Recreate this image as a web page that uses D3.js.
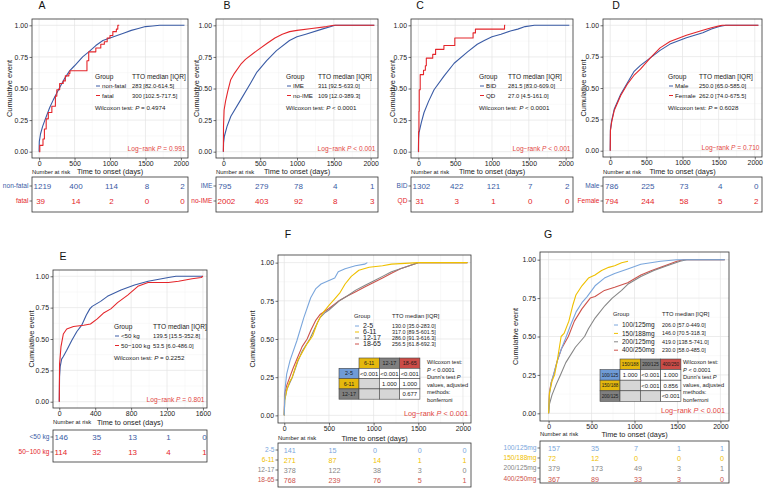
<!DOCTYPE html>
<html>
<head>
<meta charset="utf-8">
<script src="https://cdn.jsdelivr.net/npm/d3@7"></script>
<style>
  body { margin: 0; background: #fff; }
  svg { display: block; font-family: "Liberation Sans", Arial, sans-serif; }
</style>
</head>
<body>
<svg id="fig" width="767" height="488"></svg>
<script>
// ---- data ----
var xTicks2000 = [0, 500, 1000, 1500, 2000];
var xTicks1600 = [0, 400, 800, 1200, 1600];
var yTicks = [0, 0.25, 0.5, 0.75, 1];

// A: fatal vs non-fatal
var aGroups = ["non-fatal", "fatal"];
var aMedians = ["283 [82.0-614.5]", "300 [102.5-717.5]"];
var aRisk = [[1219, 400, 114, 8, 2], [39, 14, 2, 0, 0]];
var aNonFatal = [[0,0],[3,0.08],[20,0.14],[50,0.2],[82,0.25],[150,0.35],[200,0.41],[283,0.5],[350,0.57],[430,0.64],[500,0.68],[614,0.75],[700,0.79],[800,0.84],[900,0.88],[1000,0.9],[1100,0.92],[1200,0.94],[1300,0.96],[1400,0.975],[1500,0.99],[1600,0.995],[1700,1],[2050,1]];
var aFatal = [[0,0],[10,0.05],[55,0.1],[75,0.18],[100,0.26],[130,0.31],[180,0.36],[230,0.44],[250,0.49],[290,0.54],[340,0.56],[370,0.6],[420,0.62],[435,0.64],[665,0.64],[675,0.72],[700,0.79],[800,0.82],[870,0.85],[920,0.87],[960,0.9],[1000,0.92],[1040,0.95],[1090,0.97],[1110,1],[1130,1]];

// B: IME vs no-IME
var bGroups = ["IME", "no-IME"];
var bMedians = ["311 [92.5-633.0]", "109 [12.0-389.3]"];
var bRisk = [[795, 279, 78, 4, 1], [2002, 403, 92, 8, 3]];
var bIME = [[0,0],[3,0.07],[13,0.12],[50,0.2],[102,0.28],[235,0.41],[367,0.54],[456,0.63],[588,0.72],[721,0.8],[898,0.88],[1000,0.91],[1119,0.93],[1340,0.97],[1518,1],[2050,1]];
var bNoIME = [[0,0],[2,0.2],[10,0.33],[30,0.4],[60,0.48],[100,0.57],[150,0.62],[235,0.69],[300,0.73],[456,0.8],[600,0.86],[700,0.9],[800,0.93],[900,0.95],[1000,0.96],[1200,0.975],[1400,0.99],[1500,1],[2050,1]];

// C: BID vs QD
var cGroups = ["BID", "QD"];
var cMedians = ["281.5 [83.0-609.0]", "27.0 [4.5-161.0]"];
var cRisk = [[1302, 422, 121, 7, 2], [31, 3, 1, 0, 0]];
var cBID = [[0,0],[3,0.1],[9,0.15],[40,0.23],[77,0.31],[140,0.4],[213,0.49],[350,0.6],[486,0.7],[668,0.79],[800,0.85],[895,0.88],[1000,0.91],[1122,0.93],[1250,0.955],[1350,0.97],[1450,0.99],[1577,1],[2050,1]];
var cQD = [[0,0],[3,0.16],[8,0.32],[12,0.49],[25,0.61],[68,0.61],[70,0.645],[95,0.68],[108,0.74],[190,0.74],[195,0.77],[234,0.81],[347,0.84],[495,0.9],[743,0.94],[775,0.97],[1170,1],[1180,1]];

// D: Male vs Female
var dGroups = ["Male", "Female"];
var dMedians = ["250.0 [65.0-585.0]", "262.0 [74.0-675.5]"];
var dRisk = [[786, 225, 73, 4, 0], [794, 244, 58, 5, 2]];
var dMale = [[0,0],[3,0.17],[20,0.24],[55,0.33],[145,0.45],[236,0.54],[327,0.63],[418,0.68],[555,0.74],[690,0.8],[827,0.85],[1054,0.9],[1281,0.94],[1400,0.97],[1509,0.99],[1600,1],[2050,1]];
var dFemale = [[0,0],[3,0.16],[20,0.23],[55,0.32],[145,0.44],[236,0.53],[327,0.6],[418,0.65],[555,0.74],[690,0.82],[827,0.87],[1054,0.92],[1281,0.96],[1400,0.98],[1509,0.995],[1550,1],[2050,1]];

// E: body weight
var eGroups = ["<50 kg", "50\u2212100 kg"];
var eMedians = ["139.5 [15.5-352.8]", "53.5 [6.0-486.0]"];
var eRisk = [[146, 35, 13, 1, 0], [114, 32, 13, 4, 1]];
var eLight = [[0,0],[3,0.2],[10,0.28],[26,0.34],[45,0.36],[83,0.41],[140,0.49],[196,0.56],[250,0.61],[300,0.69],[340,0.74],[366,0.76],[460,0.8],[536,0.84],[687,0.89],[838,0.93],[989,0.96],[1140,0.98],[1215,0.99],[1300,1],[1600,1]];
var eHeavy = [[0,0],[3,0.3],[8,0.34],[19,0.44],[45,0.54],[83,0.58],[158,0.6],[272,0.61],[347,0.62],[423,0.66],[498,0.71],[574,0.74],[649,0.79],[762,0.85],[875,0.92],[989,0.95],[1215,0.95],[1328,0.96],[1479,0.98],[1580,0.99],[1600,1]];

// F: age group
var fGroups = ["2-5", "6-11", "12-17", "18-65"];
var fMedians = ["130.0 [35.0-283.0]", "317.0 [89.5-601.5]", "286.0 [91.3-616.3]", "256.5 [61.8-692.3]"];
var fRisk = [[141, 15, 0, 0, 0], [271, 87, 14, 1, 1], [378, 122, 38, 3, 0], [768, 239, 76, 5, 1]];
var fDunnCols = ["6-11", "12-17", "18-65"];
var fDunnRows = ["2-5", "6-11", "12-17"];
var fDunn = [["<0.001", "<0.001", "<0.001"], [null, "1.000", "1.000"], [null, null, "0.677"]];
var f2to5 = [[0,0],[8,0.17],[27,0.27],[65,0.36],[142,0.49],[219,0.64],[296,0.77],[354,0.83],[412,0.86],[488,0.88],[565,0.9],[604,0.94],[681,0.96],[796,0.98],[900,0.99],[930,1]];
var f6to11 = [[0,0],[5,0.1],[30,0.17],[60,0.22],[89,0.25],[150,0.36],[200,0.41],[257,0.47],[317,0.52],[373,0.61],[430,0.67],[500,0.72],[560,0.76],[620,0.8],[681,0.86],[750,0.91],[835,0.95],[950,0.97],[1100,0.98],[1200,0.99],[1500,1],[2050,1]];
var f12to17 = [[0,0],[5,0.1],[30,0.17],[60,0.21],[91,0.25],[150,0.35],[200,0.42],[286,0.5],[350,0.58],[400,0.64],[450,0.67],[500,0.69],[616,0.75],[700,0.78],[800,0.82],[900,0.85],[1000,0.88],[1100,0.91],[1200,0.94],[1300,0.96],[1400,0.98],[1500,1],[2050,1]];
var f18to65 = [[0,0],[3,0.14],[30,0.2],[62,0.25],[100,0.31],[150,0.38],[200,0.45],[256,0.5],[300,0.56],[350,0.62],[400,0.66],[450,0.68],[500,0.7],[600,0.745],[700,0.78],[800,0.81],[900,0.84],[1000,0.87],[1100,0.9],[1200,0.93],[1300,0.96],[1400,0.98],[1500,1],[2050,1]];

// G: dose
var gGroups = ["100/125mg", "150/188mg", "200/125mg", "400/250mg"];
var gMedians = ["206.0 [57.0-449.0]", "146.0 [70.5-318.3]", "419.0 [138.5-741.0]", "230.0 [58.0-485.0]"];
var gRisk = [[157, 35, 7, 1, 1], [72, 12, 0, 0, 0], [379, 173, 49, 3, 1], [367, 89, 33, 3, 0]];
var gDunnCols = ["150/188", "200/125", "400/250"];
var gDunnRows = ["100/125", "150/188", "200/125"];
var gDunn = [["1.000", "<0.001", "1.000"], [null, "<0.001", "0.856"], [null, null, "<0.001"]];
var g100 = [[0,0],[10,0.12],[30,0.2],[57,0.25],[100,0.34],[150,0.42],[206,0.5],[260,0.58],[320,0.66],[388,0.72],[449,0.76],[541,0.83],[650,0.88],[769,0.91],[921,0.94],[1074,0.97],[1303,0.99],[1493,1],[2050,1]];
var g150 = [[0,0],[10,0.13],[40,0.21],[70,0.25],[100,0.34],[146,0.5],[180,0.52],[236,0.6],[280,0.7],[318,0.77],[388,0.83],[464,0.88],[540,0.9],[617,0.93],[700,0.95],[769,0.96],[850,0.98],[925,0.99]];
var g200 = [[0,0],[10,0.06],[40,0.12],[90,0.19],[138,0.25],[200,0.33],[312,0.43],[419,0.5],[464,0.55],[541,0.62],[655,0.7],[741,0.75],[850,0.8],[921,0.84],[1074,0.89],[1226,0.93],[1379,0.96],[1531,0.99],[1608,1],[2050,1]];
var g400 = [[0,0],[10,0.14],[30,0.2],[58,0.25],[100,0.34],[150,0.42],[230,0.5],[300,0.6],[388,0.68],[485,0.75],[541,0.76],[650,0.8],[769,0.82],[921,0.85],[1074,0.9],[1200,0.93],[1303,0.95],[1400,0.97],[1493,0.99],[1570,1],[2050,1]];

// ---- styling ----
var BLUE = "#3A5BA5", RED = "#E4262B", LOGRED = "#E2473F";
var JCO = ["#7AA6DC", "#EFC000", "#868686", "#CD534C"];
var CELL = ["#6F9BD6", "#E5B80D", "#7F7F7F", "#CB4C47"];

var svg = d3.select("#fig");

function parts(sel, list) {
  list.forEach(function (p) {
    sel.append("tspan").attr("font-style", p[1] ? "italic" : null).text(p[0]);
  });
  return sel;
}

function txt(x, y, s, size, opts) {
  opts = opts || {};
  return svg.append("text")
    .attr("x", x).attr("y", y).attr("dy", "0.35em")
    .attr("font-size", size)
    .attr("text-anchor", opts.anchor || "start")
    .attr("fill", opts.fill || "#1a1a1a")
    .text(s);
}

function drawPanel(p) {
  var bx0 = p.box[0], bx1 = p.box[1], by0 = p.box[2], by1 = p.box[3];
  var x = d3.scaleLinear().domain(p.xDomain).range([bx0, bx1]);
  var y = d3.scaleLinear().domain([-0.05, 1.05]).range([by1, by0]);

  // grid
  var minorX = p.xTicks.slice(0, -1).map(function (t, i) { return (t + p.xTicks[i + 1]) / 2; });
  var minorY = [0.125, 0.375, 0.625, 0.875];
  var grid = svg.append("g");
  minorX.forEach(function (t) { grid.append("line").attr("x1", x(t)).attr("x2", x(t)).attr("y1", by0).attr("y2", by1).attr("stroke", "#f2f2f2").attr("stroke-width", 0.5); });
  minorY.forEach(function (t) { grid.append("line").attr("x1", bx0).attr("x2", bx1).attr("y1", y(t)).attr("y2", y(t)).attr("stroke", "#f2f2f2").attr("stroke-width", 0.5); });
  p.xTicks.forEach(function (t) { grid.append("line").attr("x1", x(t)).attr("x2", x(t)).attr("y1", by0).attr("y2", by1).attr("stroke", "#e4e4e4").attr("stroke-width", 0.7); });
  yTicks.forEach(function (t) { grid.append("line").attr("x1", bx0).attr("x2", bx1).attr("y1", y(t)).attr("y2", y(t)).attr("stroke", "#e4e4e4").attr("stroke-width", 0.7); });

  // curves
  p.curves.forEach(function (c) {
    var line = d3.line()
      .x(function (d) { return x(d[0]); })
      .y(function (d) { return y(d[1]); })
      .curve(c.step ? d3.curveStepAfter : d3.curveLinear);
    svg.append("path").datum(c.data)
      .attr("d", line).attr("fill", "none")
      .attr("stroke", c.color).attr("stroke-width", 1.1)
      .attr("stroke-linejoin", "round");
  });

  // border + axes
  svg.append("rect").attr("x", bx0).attr("y", by0).attr("width", bx1 - bx0).attr("height", by1 - by0)
    .attr("fill", "none").attr("stroke", "#333").attr("stroke-width", 0.8);
  var xa = svg.append("g").attr("transform", "translate(0," + by1 + ")")
    .call(d3.axisBottom(x).tickValues(p.xTicks).tickSize(2.5).tickPadding(1).tickFormat(d3.format("d")));
  var ya = svg.append("g").attr("transform", "translate(" + bx0 + ",0)")
    .call(d3.axisLeft(y).tickValues(yTicks).tickSize(2.5).tickPadding(1.5).tickFormat(d3.format(".2f")));
  [xa, ya].forEach(function (a) {
    a.select(".domain").remove();
    a.selectAll("line").attr("stroke", "#333").attr("stroke-width", 0.7);
    a.selectAll("text").attr("font-size", 6.9).attr("fill", "#222");
    a.attr("font-family", null);
  });

  // titles
  svg.append("text").attr("x", p.letter[0]).attr("y", p.letter[1]).attr("font-size", 10.5)
    .attr("text-anchor", "middle").attr("fill", "#111").text(p.name);
  svg.append("text").attr("transform", "translate(" + p.ylabX + "," + ((by0 + by1) / 2) + ") rotate(-90)")
    .attr("text-anchor", "middle").attr("dy", "0.35em").attr("font-size", 7.4).attr("fill", "#222")
    .text("Cumulative event");

  // legend
  var L = p.legend;
  txt(L.gx, L.gy, "Group", L.headFont);
  txt(L.tx, L.gy, "TTO median [IQR]", L.headFont);
  p.groups.forEach(function (gname, i) {
    var ry = L.gy + L.first + i * L.step;
    svg.append("line").attr("x1", L.gx + 1).attr("x2", L.gx + 5).attr("y1", ry).attr("y2", ry)
      .attr("stroke", p.colors[i]).attr("stroke-width", 1);
    txt(L.gx + L.labOff, ry, gname, L.labFont);
    txt(L.tx, ry, p.medians[i], L.valFont);
  });
  if (p.wilcoxon) {
    parts(txt(L.gx, L.gy + L.wil, "", 6.2), [["Wilcoxon test: ", false], ["P", true], [" " + p.wilcoxon, false]]);
  }
  if (p.dunn) drawDunn(p);

  parts(txt(bx1 - p.logOff[0], by1 - p.logOff[1], "", p.logFont, { anchor: "end", fill: LOGRED }),
    [["Log\u2212rank ", false], ["P", true], [" " + p.logrank, false]]);

  // risk table
  var R = p.risk;
  txt(bx0, R.head, "Number at risk", 5.9);
  txt((bx0 + bx1) / 2, R.head, "Time to onset (days)", 7.3, { anchor: "middle" });
  svg.append("rect").attr("x", bx0).attr("y", R.top).attr("width", bx1 - bx0).attr("height", R.bottom - R.top)
    .attr("fill", "none").attr("stroke", "#333").attr("stroke-width", 0.8);
  p.risk.values.forEach(function (row, i) {
    var ry = R.rows[i];
    row.forEach(function (v, j) {
      var t;
      if (R.left) {
        t = txt(x(p.xTicks[j]) - 0.5, ry, v, R.font, { fill: p.colors[i] });
      } else {
        t = txt(x(p.xTicks[j]) + 1.5, ry, v, R.font, { anchor: "middle", fill: p.colors[i] });
        var bb = t.node().getBBox();
        if (bb.x < bx0 + 1.5) t.attr("x", +t.attr("x") + (bx0 + 1.5 - bb.x));
      }
    });
    txt(bx0 - 3.5, ry, p.groups[i], R.labFont, { anchor: "end", fill: p.colors[i] });
    svg.append("line").attr("x1", bx0 - 2.5).attr("x2", bx0).attr("y1", ry).attr("y2", ry)
      .attr("stroke", "#333").attr("stroke-width", 0.7);
  });
}

function drawDunn(p) {
  var D = p.dunn;
  var g = svg.append("g");
  D.cols.forEach(function (c, j) {
    var cx = D.x + D.labW + j * D.colW;
    g.append("rect").attr("x", cx).attr("y", D.y).attr("width", D.colW).attr("height", D.rowH)
      .attr("fill", CELL[j + 1]).attr("stroke", "#444").attr("stroke-width", 0.6);
    txt(cx + D.colW / 2, D.y + D.rowH / 2, c, D.headFont, { anchor: "middle" });
  });
  D.rows.forEach(function (r, i) {
    var ry = D.y + (i + 1) * D.rowH;
    g.append("rect").attr("x", D.x).attr("y", ry).attr("width", D.labW).attr("height", D.rowH)
      .attr("fill", CELL[i]).attr("stroke", "#444").attr("stroke-width", 0.6);
    txt(D.x + D.labW / 2, ry + D.rowH / 2, r, D.headFont, { anchor: "middle" });
    D.values[i].forEach(function (v, j) {
      var cx = D.x + D.labW + j * D.colW;
      g.append("rect").attr("x", cx).attr("y", ry).attr("width", D.colW).attr("height", D.rowH)
        .attr("fill", v === null ? "#d6d6d6" : "#fff").attr("stroke", "#444").attr("stroke-width", 0.6);
      if (v !== null) txt(cx + D.colW / 2, ry + D.rowH / 2, v, D.valFont, { anchor: "middle" });
    });
  });
  var lines = [[["Wilcoxon test:", false]], [["P", true], [" < 0.0001", false]], [["Dunn's test ", false], ["P", true]],
    [["values, adjusted", false]], [["methods:", false]], [["bonferroni", false]]];
  lines.forEach(function (l, i) {
    parts(txt(D.tx, D.ty + i * D.tstep, "", 5.7), l);
  });
}

// ---- panel definitions ----
var topLegend = function (gx, tx) {
  return { gx: gx, tx: tx, gy: 77, first: 9, step: 9.5, wil: 31, labOff: 7, headFont: 6.6, labFont: 6.2, valFont: 5.8 };
};
var topRisk = function (values) {
  return { head: 171.5, top: 177, bottom: 212, rows: [186, 201], values: values, font: 8, labFont: 6.6 };
};

drawPanel({
  name: "A", letter: [42, 9], box: [32, 188, 19, 158], xDomain: [-100, 2100], xTicks: xTicks2000, ylabX: 9,
  curves: [{ data: aNonFatal, color: BLUE }, { data: aFatal, color: RED, step: true }],
  groups: aGroups, colors: [BLUE, RED], medians: aMedians, wilcoxon: "= 0.4974",
  legend: topLegend(95, 132), logrank: "= 0.991", logOff: [2.5, 9], logFont: 6.6,
  risk: topRisk(aRisk)
});
drawPanel({
  name: "B", letter: [227, 9], box: [216, 378, 19, 158], xDomain: [-100, 2100], xTicks: xTicks2000, ylabX: 196,
  curves: [{ data: bIME, color: BLUE }, { data: bNoIME, color: RED }],
  groups: bGroups, colors: [BLUE, RED], medians: bMedians, wilcoxon: "< 0.0001",
  legend: topLegend(286, 318), logrank: "< 0.001", logOff: [2.5, 9], logFont: 6.6,
  risk: topRisk(bRisk)
});
drawPanel({
  name: "C", letter: [420, 9], box: [411, 573, 19, 158], xDomain: [-100, 2100], xTicks: xTicks2000, ylabX: 392,
  curves: [{ data: cBID, color: BLUE }, { data: cQD, color: RED, step: true }],
  groups: cGroups, colors: [BLUE, RED], medians: cMedians, wilcoxon: "< 0.0001",
  legend: topLegend(479, 508), logrank: "< 0.001", logOff: [2.5, 9], logFont: 6.6,
  risk: topRisk(cRisk)
});
drawPanel({
  name: "D", letter: [616, 9], box: [603, 762, 19, 157], xDomain: [-100, 2100], xTicks: xTicks2000, ylabX: 583,
  curves: [{ data: dMale, color: BLUE }, { data: dFemale, color: RED }],
  groups: dGroups, colors: [BLUE, RED], medians: dMedians, wilcoxon: "= 0.6028",
  legend: topLegend(668, 699), logrank: "= 0.710", logOff: [2.5, 9], logFont: 6.6,
  risk: topRisk(dRisk)
});
drawPanel({
  name: "E", letter: [63, 260], box: [53, 207, 270, 408], xDomain: [-70, 1645], xTicks: xTicks1600, ylabX: 31,
  curves: [{ data: eLight, color: BLUE }, { data: eHeavy, color: RED }],
  groups: eGroups, colors: [BLUE, RED], medians: eMedians, wilcoxon: "= 0.2252",
  legend: { gx: 114, tx: 153, gy: 327, first: 9, step: 9.5, wil: 31, labOff: 7, headFont: 6.6, labFont: 6.2, valFont: 5.8 },
  logrank: "= 0.801", logOff: [2.5, 8], logFont: 6.6,
  risk: { head: 422, top: 430, bottom: 462, rows: [437, 452], values: eRisk, font: 8, labFont: 6.6 }
});
drawPanel({
  name: "F", letter: [288, 238], box: [278, 471, 255, 423], xDomain: [-70, 2090], xTicks: xTicks2000, ylabX: 252,
  curves: [{ data: f18to65, color: JCO[3] }, { data: f12to17, color: JCO[2] }, { data: f6to11, color: JCO[1] }, { data: f2to5, color: JCO[0] }],
  groups: fGroups, colors: JCO, medians: fMedians,
  legend: { gx: 354, tx: 392, gy: 316, first: 10, step: 6, labOff: 9, headFont: 5.8, labFont: 7, valFont: 5.4 },
  dunn: { x: 339, y: 358, labW: 20, colW: 20.3, rowH: 10.3, cols: fDunnCols, rows: fDunnRows, values: fDunn,
    headFont: 5.4, valFont: 5.9, tx: 427, ty: 362, tstep: 7.6 },
  logrank: "< 0.001", logOff: [3, 10], logFont: 7.3,
  risk: { head: 438, top: 443, bottom: 487, rows: [450, 460, 470, 480], values: fRisk, font: 7.2, left: true, labFont: 6.6 }
});
drawPanel({
  name: "G", letter: [548, 238], box: [540, 729, 252, 421], xDomain: [-100, 2100], xTicks: xTicks2000, ylabX: 515,
  curves: [{ data: g400, color: JCO[3] }, { data: g200, color: JCO[2] }, { data: g100, color: JCO[0] }, { data: g150, color: JCO[1] }],
  groups: gGroups, colors: JCO, medians: gMedians,
  legend: { gx: 613, tx: 662, gy: 314, first: 11, step: 8.4, labOff: 9, headFont: 5.8, labFont: 6.5, valFont: 5.4 },
  dunn: { x: 600, y: 359, labW: 20, colW: 20.3, rowH: 10.6, cols: gDunnCols, rows: gDunnRows, values: gDunn,
    headFont: 4.6, valFont: 5.9, tx: 683, ty: 362, tstep: 7.6 },
  logrank: "< 0.001", logOff: [4, 11], logFont: 7.3,
  risk: { head: 434, top: 441, bottom: 483, rows: [448, 458, 468, 479], values: gRisk, font: 7.2, left: true, labFont: 6.6 }
});
</script>
</body>
</html>
